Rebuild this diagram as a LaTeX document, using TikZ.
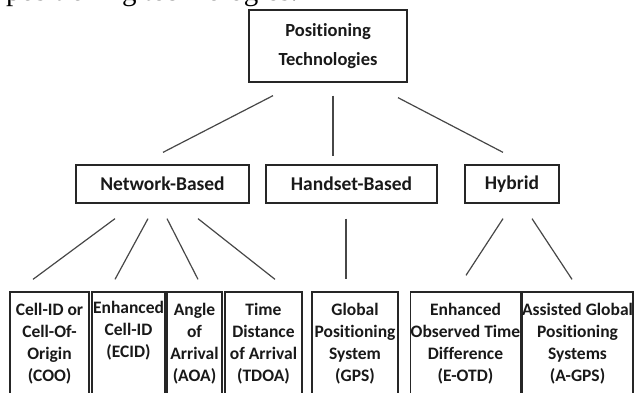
\documentclass[tikz,border=0pt]{standalone}
\usepackage{fontspec}
\setmainfont{Carlito}[Ligatures=NoCommon]
\newfontfamily\seriffont{Liberation Serif}
\usetikzlibrary{calc,positioning}
\colorlet{myline}{black!72}
\colorlet{myborder}{black!85}
\colorlet{mytext}{black!90}
\tikzset{
	box/.style={rectangle,draw=myborder,line width=1.3pt,inner sep=0,text=mytext,align=center,
		font=\bfseries\fontsize{17.5}{22}\selectfont},
	node top/.style={box,minimum width=158,minimum height=72,font=\bfseries\fontsize{18.5}{29}\selectfont},
	node mid/.style={box,minimum height=38,font=\bfseries\fontsize{19.5}{22}\selectfont}, % second row
	node leaf/.style={box,minimum height=104}, % bottom row, cut by the page
	connect/.style={line width=1.2pt,myline},
}

\begin{document}
\begin{tikzpicture}[x=1pt,y=-1pt]
  \useasboundingbox (0,0) rectangle (634,393);
  \clip (0,0) rectangle (634,393);
  
  % TEXT ABOVE (cut by the page)
  \node[anchor=base west,inner sep=0,font=\seriffont\fontsize{29}{32}\selectfont] (caption) at (6,1)
    {positioning technologies.};
  
  % ROOT
  \node[node top] (top) at (328,46) {Positioning\\Technologies};
  
  % SECOND ROW
  \node[node mid,minimum width=173] (net)  at (162.5,184) {Network-Based};
  \node[node mid,minimum width=171] (hand) at (351.5,184) {Handset-Based};
  \node[node mid,minimum width=94]  (hyb)  at (512,184)   {Hybrid};
  
  % BOTTOM ROW
  \foreach \name/\xa/\xb/\txt in {
      coo/10/89/{Cell-ID or\\Cell-Of-\\Origin\\(COO)},
      ecid/92/165/{Enhanced\\Cell-ID\\(ECID)\\\strut},
      aoa/167/222/{Angle\\of\\Arrival\\(AOA)},
      tdoa/225/302/{Time\\Distance\\of Arrival\\(TDOA)},
      gps/312/398/{Global\\Positioning\\System\\(GPS)},
      eotd/411/520/{Enhanced\\Observed Time\\Difference\\(E-OTD)},
      agps/522/633/{Assisted Global\\Positioning\\Systems\\(A-GPS)}}{ % loop over leaves
    \node[node leaf,minimum width={\xb-\xa}] (\name) at ({(\xa+\xb)/2},344) {\txt};
  }
  
  % CONNECTORS (with gaps at both ends)
  \draw[connect] ($(top.south)+(-55,13)$) -- ($(net.north)+(0.5,-12)$);
  \draw[connect] ($(top.south)+(5,13)$)   -- ($(hand.north)+(-18.5,-8)$);
  \draw[connect] ($(top.south)+(70,15)$)  -- ($(hyb.north)+(-9,-12)$);
  
  \draw[connect] ($(net.south)+(-47.5,15)$) -- ($(coo.north)+(-16.5,-12)$);
  \draw[connect] ($(net.south)+(-14.5,15)$) -- ($(ecid.north)+(-13.5,-12)$);
  \draw[connect] ($(net.south)+(4.5,15)$)   -- ($(aoa.north)+(3.5,-12)$);
  \draw[connect] ($(net.south)+(35.5,15)$)  -- ($(tdoa.north)+(11.5,-12)$);
  
  \draw[connect] ($(hand.south)+(-5.5,15)$) -- ($(gps.north)+(-9,-12)$);
  
  \draw[connect] ($(hyb.south)+(-9,15)$) -- ($(eotd.north)+(0.5,-16)$);
  \draw[connect] ($(hyb.south)+(20,15)$) -- ($(agps.north)+(-5.5,-12)$);
  
\end{tikzpicture}
\end{document}
